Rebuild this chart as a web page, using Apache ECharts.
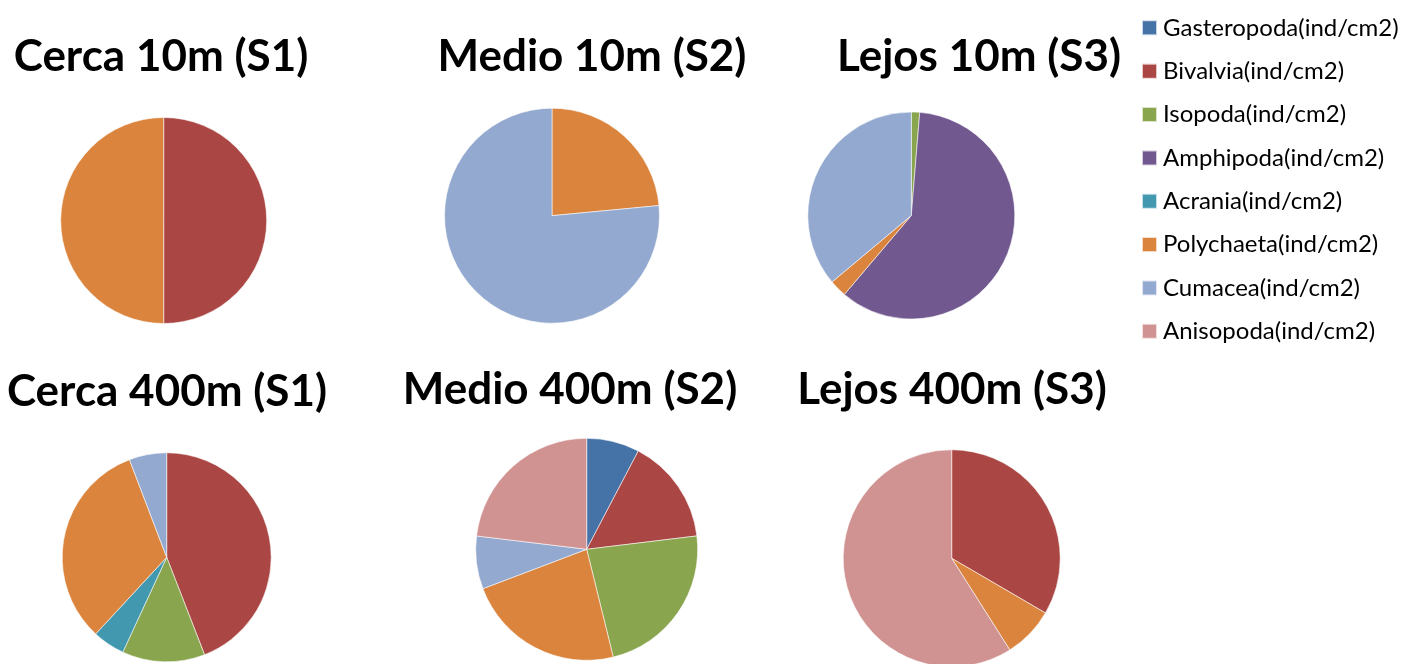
<!DOCTYPE html>
<html>
<head>
<meta charset="utf-8">
<script src="https://cdn.jsdelivr.net/npm/echarts@6/dist/echarts.min.js"></script>
<style>
html,body{margin:0;padding:0;background:#fff;}
#chart{width:1412px;height:664px;}
</style>
</head>
<body>
<div id="chart"></div>
<script>
const categories = ['Gasteropoda(ind/cm2)','Bivalvia(ind/cm2)','Isopoda(ind/cm2)','Amphipoda(ind/cm2)','Acrania(ind/cm2)','Polychaeta(ind/cm2)','Cumacea(ind/cm2)','Anisopoda(ind/cm2)'];
const colors = ['#4572A7','#AA4643','#89A54E','#71588F','#4198AF','#DB843D','#93A9CF','#D19392'];

const pieTitles = ['Cerca 10m (S1)','Medio 10m (S2)','Lejos 10m (S3)','Cerca 400m (S1)','Medio 400m (S2)','Lejos 400m (S3)'];
const cerca10  = [0, 50, 0, 0, 0, 50, 0, 0];
const medio10  = [0, 0, 0, 0, 0, 23.5, 76.5, 0];
const lejos10  = [0, 0, 1.3, 59.9, 0, 2.7, 36.1, 0];
const cerca400 = [0, 44.1, 12.8, 0, 5.0, 32.3, 5.8, 0];
const medio400 = [1, 2, 3, 0, 0, 3, 1, 3];
const lejos400 = [0, 33.4, 0, 0, 0, 7.6, 0, 59.0];

const allValues = [cerca10, medio10, lejos10, cerca400, medio400, lejos400];

// layout (positions / sizes)
const layout = [
  {c:[163.7,220.5], r:103,   t:[161,57]},
  {c:[552,215.7],   r:107.5, t:[592,57]},
  {c:[911.3,215.5], r:103.5, t:[979,57]},
  {c:[166.7,557.3], r:104.5, t:[167,392]},
  {c:[586.7,549.3], r:111,   t:[570,390]},
  {c:[951.7,558.3], r:108.5, t:[952,390]}
];

const series = allValues.map((vals, i) => ({
  type: 'pie',
  center: layout[i].c,
  radius: layout[i].r,
  startAngle: 90,
  clockwise: true,
  label: {show: false},
  labelLine: {show: false},
  emphasis: {disabled: true},
  itemStyle: {borderColor: 'rgba(255,255,255,0.7)', borderWidth: 0.8},
  data: vals.map((v, k) => ({name: categories[k], value: v, itemStyle: {color: colors[k]}})).filter(d => d.value > 0)
}));

const graphics = pieTitles.map((t, i) => ({
  type: 'text',
  x: layout[i].t[0],
  y: layout[i].t[1],
  style: {
    text: t,
    font: 'bold 44px Lato',
    fill: '#000',
    textAlign: 'center',
    textVerticalAlign: 'middle'
  }
}));

const chart = echarts.init(document.getElementById('chart'));
chart.setOption({
  animation: false,
  backgroundColor: '#fff',
  legend: {
    orient: 'vertical',
    left: 1141,
    top: 15.8,
    padding: 0,
    itemWidth: 15,
    itemHeight: 15,
    itemGap: 19.36,
    icon: 'rect',
    selectedMode: false,
    data: categories,
    textStyle: {fontFamily: 'Lato', fontSize: 24, color: '#000', padding: [0,0,0,1]}
  },
  graphic: graphics,
  series: series
});
</script>
</body>
</html>
